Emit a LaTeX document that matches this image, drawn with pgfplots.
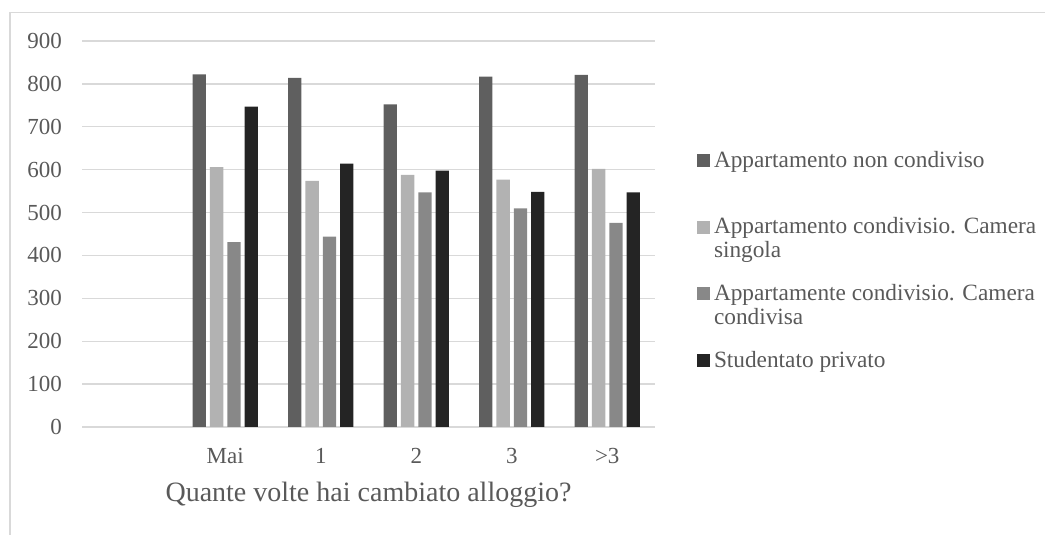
\documentclass[border=0pt]{standalone}
\usepackage{fontspec}
\setmainfont{Liberation Serif}
\usepackage{pgfplots}
\pgfplotsset{compat=1.18}

\definecolor{serA}{HTML}{5F5F5F}
\definecolor{serB}{HTML}{B2B2B2}
\definecolor{serC}{HTML}{888888}
\definecolor{serD}{HTML}{242424}
\definecolor{gridGray}{HTML}{D9D9D9}
\definecolor{textGray}{HTML}{595959}

\newcommand{\legtext}[1]{\parbox[t]{325bp}{\raggedright #1}}

\begin{document}
\begin{tikzpicture}
\path[use as bounding box] (0,0) rectangle (1045bp,535bp);
\draw[gridGray, line width=1.2bp] (10bp,0) -- (10bp,522.5bp) -- (1045bp,522.5bp);
\begin{axis}[
    at={(82bp,108bp)}, anchor=south west,
    scale only axis, width=573bp, height=386bp,
    ybar=4bp, bar width=13.3bp,
    xmin=-0.5, xmax=5.5, ymin=0, ymax=900,
    xtick={1,2,3,4,5}, xticklabels={Mai,1,2,3,>3},
    ytick={0,100,...,900},
    major tick length=0pt,
    axis line style={draw=none},
    ymajorgrids, grid style={gridGray, line width=1.3bp},
    tick label style={font=\fontsize{23bp}{26bp}\selectfont, text=textGray, inner sep=0pt},
    /pgf/number format/assume math mode=true,
    yticklabel style={anchor=east, xshift=-20bp},
    xticklabel style={anchor=base, yshift=-36bp},
    xlabel={Quante volte hai cambiato alloggio?},
    xlabel style={at={(axis description cs:0.5,0)}, anchor=base, yshift=-74bp,
        font=\fontsize{28bp}{31bp}\selectfont, text=textGray, inner sep=0pt},
    legend style={at={(1.0733,0.7150)}, anchor=north west, draw=none, fill=none,
        inner sep=0pt, outer sep=0pt, column sep=4bp, row sep=0pt,
        cells={anchor=base west},
        nodes={inner sep=0pt, text height=16bp, text depth=50.7bp,
            font=\fontsize{23.3bp}{24bp}\selectfont, text=textGray}},
    sqlegend/.style={legend image code/.code={\fill[##1] (0bp,0bp) rectangle (13bp,13bp);}},
]
\addplot[fill=serA, draw=none, sqlegend] coordinates {(1,822) (2,814) (3,752) (4,817) (5,821)};
\addlegendentry{\legtext{Appartamento non condiviso}}
\addplot[fill=serB, draw=none, sqlegend] coordinates {(1,606) (2,574) (3,588) (4,577) (5,602)};
\addlegendentry{\legtext{Appartamento condivisio. Camera singola}}
\addplot[fill=serC, draw=none, sqlegend] coordinates {(1,431) (2,444) (3,547) (4,510) (5,476)};
\addlegendentry{\legtext{Appartamente condivisio. Camera condivisa}}
\addplot[fill=serD, draw=none, sqlegend] coordinates {(1,747) (2,614) (3,598) (4,548) (5,547)};
\addlegendentry{\legtext{Studentato privato}}
\end{axis}
\end{tikzpicture}
\end{document}
